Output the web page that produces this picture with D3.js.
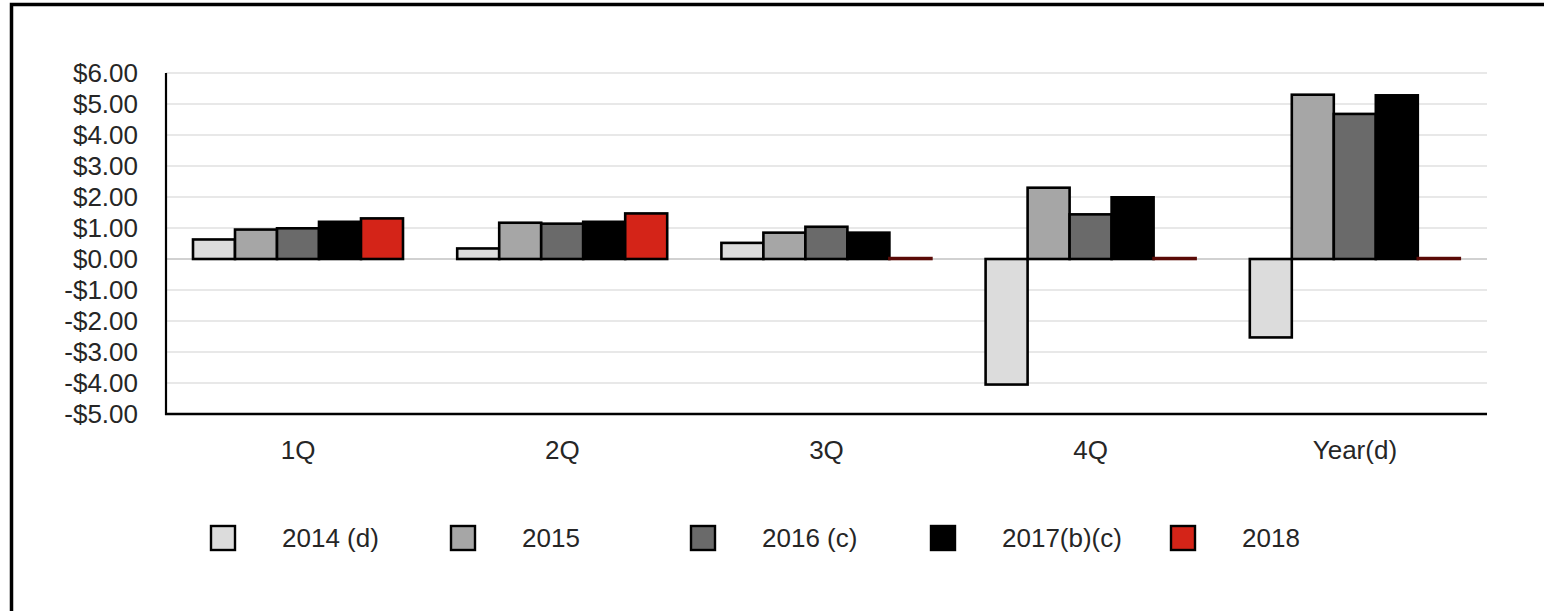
<!DOCTYPE html>
<html>
<head>
<meta charset="utf-8">
<script src="https://cdn.jsdelivr.net/npm/d3@7"></script>
<style>
  html, body { margin: 0; padding: 0; background: #fff; }
  svg { display: block; }
  text { font-family: "Liberation Sans", Arial, Helvetica, sans-serif; fill: #262626; }
</style>
</head>
<body>
<svg id="chart" width="1544" height="611"></svg>
<script>
// ---- data ----
const categories = ["1Q", "2Q", "3Q", "4Q", "Year(d)"];
const seriesNames = ["2014 (d)", "2015", "2016 (c)", "2017(b)(c)", "2018"];
const values2014 = [0.63, 0.34, 0.52, -4.05, -2.53];
const values2015 = [0.95, 1.17, 0.85, 2.30, 5.30];
const values2016 = [0.99, 1.14, 1.04, 1.44, 4.68];
const values2017 = [1.20, 1.20, 0.85, 1.99, 5.28];
const values2018 = [1.31, 1.47, 0.03, 0.03, 0.03];
const yTicks = [6, 5, 4, 3, 2, 1, 0, -1, -2, -3, -4, -5];
const seriesColors = ["#dcdcdc", "#a6a6a6", "#6a6a6a", "#000000", "#d42418"];

const allValues = [values2014, values2015, values2016, values2017, values2018];

const svg = d3.select("#chart");

// frame (left + top border)
svg.append("rect")
  .attr("x", 11.5).attr("y", 4.5)
  .attr("width", 1600).attr("height", 700)
  .attr("fill", "none").attr("stroke", "#000").attr("stroke-width", 3.5);

const plotLeft = 166, plotRight = 1487;
const y = d3.scaleLinear().domain([-5, 6]).range([414, 73]);
const x0 = d3.scaleBand().domain(categories).range([plotLeft, plotRight]).padding(0);
const x1 = d3.scaleBand().domain(seriesNames).range([27, 237]).padding(0);

// gridlines
svg.append("g").selectAll("line")
  .data(yTicks.filter(t => t !== 0 && t !== -5))
  .join("line")
  .attr("x1", plotLeft).attr("x2", plotRight)
  .attr("y1", d => y(d)).attr("y2", d => y(d))
  .attr("stroke", "#e1e1e1").attr("stroke-width", 1.5);

// zero line
svg.append("line")
  .attr("x1", plotLeft).attr("x2", plotRight)
  .attr("y1", y(0)).attr("y2", y(0))
  .attr("stroke", "#c2c2c2").attr("stroke-width", 1.5);

// bars
const barData = [];
categories.forEach((c, ci) => {
  seriesNames.forEach((s, si) => {
    barData.push({ cat: c, series: s, si: si, value: allValues[si][ci] });
  });
});

svg.append("g").selectAll("rect")
  .data(barData)
  .join("rect")
  .attr("x", d => x0(d.cat) + x1(d.series))
  .attr("width", x1.bandwidth())
  .attr("y", d => y(Math.max(0, d.value)))
  .attr("height", d => Math.abs(y(d.value) - y(0)))
  .attr("fill", d => seriesColors[d.si])
  .attr("stroke", d => (d.si === 4 && Math.abs(d.value) < 0.1) ? "#5a0a06" : "#000")
  .attr("stroke-width", 2.6);

// y axis
const fmt = v => (v < 0 ? "-$" : "$") + Math.abs(v).toFixed(2);
const yAxis = d3.axisLeft(y).tickValues(yTicks).tickFormat(fmt).tickSize(0).tickPadding(28);
const gy = svg.append("g").attr("transform", `translate(${plotLeft},0)`).call(yAxis);
gy.select(".domain").remove();
gy.selectAll("text").attr("font-size", 26).style("fill", "#262626")
  .attr("font-family", "Liberation Sans, Arial, sans-serif");

svg.append("line")
  .attr("x1", plotLeft).attr("x2", plotLeft)
  .attr("y1", y(6)).attr("y2", y(-5) + 1)
  .attr("stroke", "#000").attr("stroke-width", 2.2);

// x axis
const xAxis = d3.axisBottom(x0).tickSize(0).tickPadding(27);
const gx = svg.append("g").attr("transform", `translate(0,${y(-5)})`).call(xAxis);
gx.select(".domain").remove();
gx.selectAll("text").attr("font-size", 26).style("fill", "#262626")
  .attr("font-family", "Liberation Sans, Arial, sans-serif");
svg.append("line")
  .attr("x1", plotLeft - 1).attr("x2", plotRight)
  .attr("y1", y(-5)).attr("y2", y(-5))
  .attr("stroke", "#000").attr("stroke-width", 2.5);

// legend
const legendX = d3.scaleBand().domain(seriesNames).range([211, 1411]);
const lg = svg.append("g").selectAll("g").data(seriesNames).join("g")
  .attr("transform", d => `translate(${legendX(d)},526)`);
lg.append("rect")
  .attr("x", 0).attr("y", 0).attr("width", 24).attr("height", 24)
  .attr("fill", (d, i) => seriesColors[i])
  .attr("stroke", "#000").attr("stroke-width", 2.4);
lg.append("text")
  .attr("x", 71).attr("y", 21)
  .attr("font-size", 26)
  .text(d => d);
</script>
</body>
</html>
